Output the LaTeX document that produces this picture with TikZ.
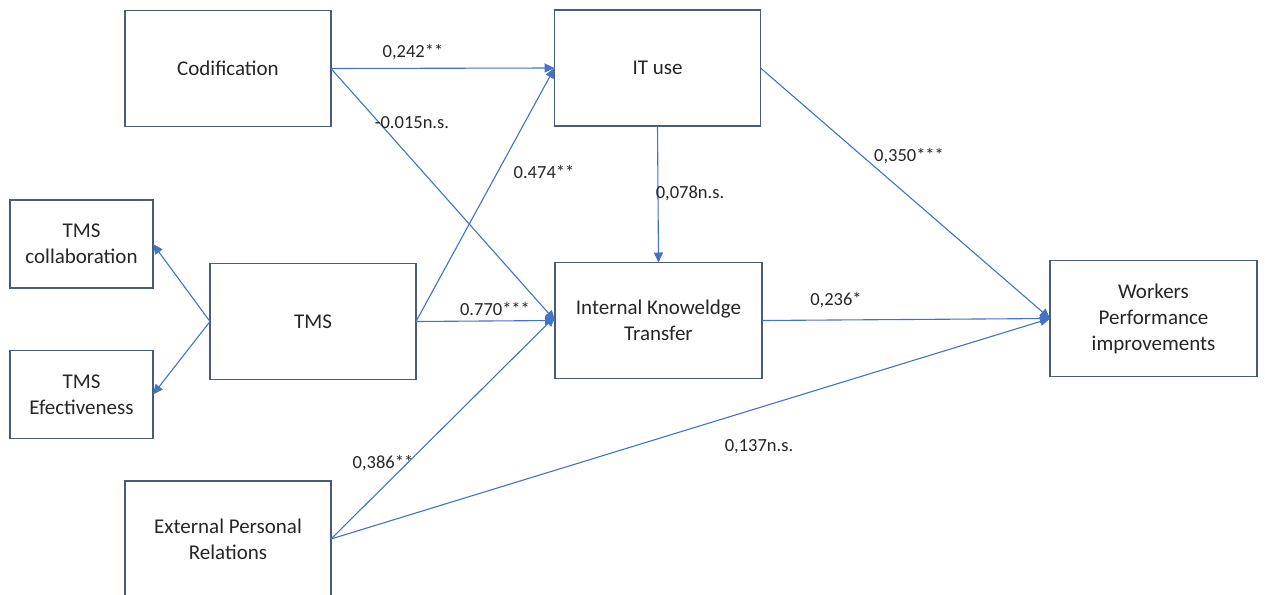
\documentclass[tikz,border=0pt]{standalone}
\usepackage{fontspec}
\setmainfont{Carlito}
\usetikzlibrary{arrows.meta}
\definecolor{edgeblue}{HTML}{4472C4}
\definecolor{framegray}{HTML}{4A5A78}
\definecolor{inkgray}{HTML}{262626}

\begin{document}
\begin{tikzpicture}[x=1pt,y=-1pt,
  box/.style={draw=framegray,line width=1.2pt,inner sep=0pt,outer sep=0pt,
    align=center,text=inkgray,font=\fontsize{21}{26}\selectfont},
  bigbox/.style={box,minimum width=206pt,minimum height=116pt},
  smallbox/.style={box,minimum width=143pt,minimum height=88pt},
  wt/.style={text=inkgray,inner sep=1pt,font=\fontsize{18.5}{22}\selectfont},
  link/.style={draw=edgeblue,line width=1.1pt,-{Triangle[length=10pt,width=9pt]}}]
  \clip (0,0) rectangle (1265,594);
  \fill[white] (0,0) rectangle (1265,594);
  % constructs
  \node[bigbox] (cod) at (228,68.5) {Codification};
  \node[bigbox] (itu) at (657.5,68) {IT use};
  \node[smallbox] (tcol) at (81.5,244) {TMS\\collaboration};
  \node[bigbox] (tms) at (313,321.5) {TMS};
  \node[smallbox] (teff) at (81.5,394.5) {TMS\\Efectiveness};
  \node[bigbox,minimum width=207pt] (ikt) at (658.5,320.5) {Internal Knoweldge\\Transfer};
  \node[bigbox,minimum width=207pt] (wpi) at (1153.5,318.5) {Workers\\Performance\\improvements};
  \node[bigbox] (epr) at (228,539) {External Personal\\Relations};
  % paths
  \draw[link] (cod.east) -- (itu.west);
  \draw[link] (cod.east) -- (ikt.west);
  \draw[link] (tms.east) -- (itu.west);
  \draw[link] (tms.east) -- (ikt.west);
  \draw[link] (tms.west) -- (tcol.east);
  \draw[link] (tms.west) -- (teff.east);
  \draw[link] (itu.south) -- (ikt.north);
  \draw[link] (itu.east) -- (wpi.west);
  \draw[link] (ikt.east) -- (wpi.west);
  \draw[link] (epr.east) -- ([yshift=4pt]ikt.west);
  \draw[link] (epr.east) -- (wpi.west);
  % coefficients
  \node[wt] (w1) at (413,52) {0,242**};
  \node[wt] (w2) at (412,123) {-0.015n.s.};
  \node[wt] (w3) at (544,172) {0.474**};
  \node[wt] (w4) at (690,193) {0,078n.s.};
  \node[wt] (w5) at (909,156) {0,350***};
  \node[wt] (w6) at (495,309) {0.770***};
  \node[wt] (w7) at (836,300) {0,236*};
  \node[wt] (w8) at (383,463) {0,386**};
  \node[wt] (w9) at (759,447) {0,137n.s.};
\end{tikzpicture}
\end{document}
